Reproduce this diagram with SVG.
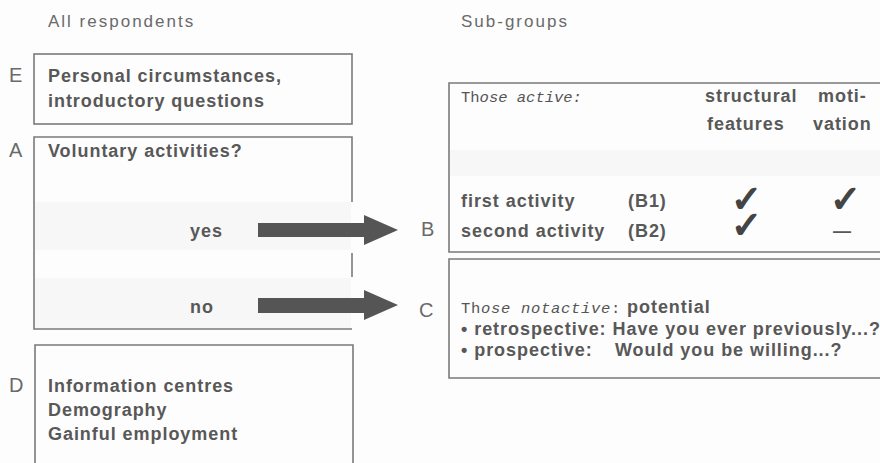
<svg xmlns="http://www.w3.org/2000/svg" width="880" height="463" viewBox="0 0 880 463">
<style>
.bg{fill:#fdfdfd}
.box{fill:none;stroke:#7a7a7a;stroke-width:1.6}
.band{fill:#f7f7f7}
.hdr{font-family:"Liberation Sans",Arial,sans-serif;font-size:17px;fill:#6a6a6a;letter-spacing:2px}
.lbl{font-family:"Liberation Sans",Arial,sans-serif;font-size:20px;fill:#6a6a6a}
.b{font-family:"Liberation Sans",Arial,sans-serif;font-size:18px;font-weight:bold;fill:#585858;letter-spacing:0.95px}
.m{font-family:"Liberation Mono","Courier New",monospace;font-size:15.5px;fill:#555}
.chk{font-family:"DejaVu Sans",sans-serif;font-size:37px;fill:#444;stroke:#444;stroke-width:1.6;stroke-linejoin:round}
.arr{fill:#555}
</style>
<rect class="bg" x="0" y="0" width="880" height="463"/>
<text class="hdr" x="48" y="27">All respondents</text>
<text class="hdr" x="461" y="27">Sub-groups</text>

<g id="E">
<rect class="box" x="34" y="54" width="318" height="70"/>
<text class="lbl" x="9" y="82">E</text>
<text class="b" x="48" y="82">Personal circumstances,</text>
<text class="b" x="48" y="107">introductory questions</text>
</g>

<g id="A">
<rect class="band" x="35" y="202" width="316" height="48"/>
<rect class="band" x="35" y="278" width="316" height="50"/>
<path class="box" d="M352,202 V137 H34 V329 H352 M352,253 V277"/>
<text class="lbl" x="9" y="157">A</text>
<text class="b" x="48" y="157">Voluntary activities?</text>
<text class="b" x="190" y="237">yes</text>
<text class="b" x="190" y="313">no</text>
</g>

<g id="D">
<path class="box" d="M35,463 V345 H353 V463"/>
<text class="lbl" x="9" y="392">D</text>
<text class="b" x="48" y="392">Information centres</text>
<text class="b" x="48" y="416">Demography</text>
<text class="b" x="48" y="440">Gainful employment</text>
</g>

<g id="B">
<rect class="band" x="450" y="150" width="430" height="26"/>
<path class="box" d="M880,83 H449 V252 H880"/>
<text class="lbl" x="421" y="236">B</text>
<text class="m" x="461" y="102">Th<tspan font-style="italic">ose active:</tspan></text>
<text class="b" x="705" y="102">structural</text>
<text class="b" x="818" y="102">moti-</text>
<text class="b" x="707" y="130">features</text>
<text class="b" x="813" y="130">vation</text>
<text class="b" x="461" y="207">first activity</text>
<text class="b" x="628" y="207">(B1)</text>
<text class="b" x="461" y="237">second activity</text>
<text class="b" x="628" y="237">(B2)</text>
<text class="chk" x="731" y="212">✓</text>
<text class="chk" x="731" y="238">✓</text>
<text class="chk" x="830" y="212">✓</text>
<text class="b" x="833" y="237">—</text>
</g>

<g id="C">
<path class="box" d="M880,259 H449 V378 H880"/>
<text class="lbl" x="419" y="317">C</text>
<text class="m" x="461" y="313" letter-spacing="0.7">Th<tspan font-style="italic">ose notactive</tspan>:<tspan class="b" dx="6">potential</tspan></text>
<text class="b" x="461" y="335">• retrospective: Have you ever previously...?</text>
<text class="b" x="461" y="356">• prospective:<tspan x="615">Would you be willing...?</tspan></text>
</g>

<g id="connectors">
<polygon class="arr" points="258,223 364,223 364,215 398,230 364,245 364,237 258,237"/>
<polygon class="arr" points="258,298 364,298 364,290 398,305 364,320 364,313 258,313"/>
</g>
</svg>
